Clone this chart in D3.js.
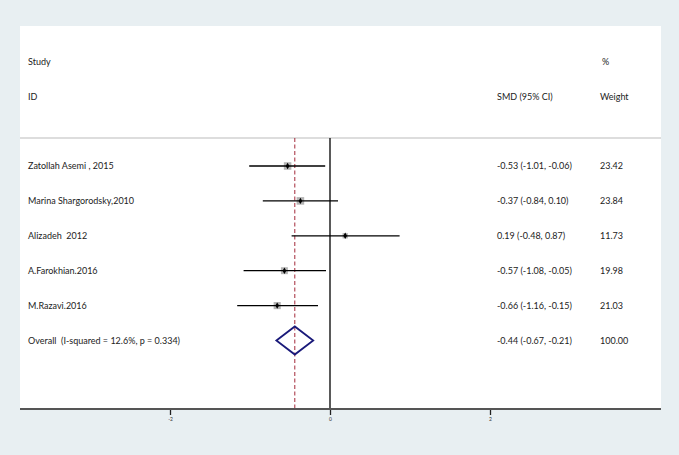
<!DOCTYPE html>
<html>
<head>
<meta charset="utf-8" />
<title>Forest plot</title>
<style>
  html, body { margin: 0; padding: 0; background: #e8eff2; }
  svg { display: block; }
  text { font-family: Lato, "Open Sans", sans-serif; font-size: 9px; fill: #222; white-space: pre; }
  .tick-lbl { font-size: 5px; fill: #333; }
</style>
</head>
<body>
<svg width="679" height="455"></svg>
<script src="https://cdn.jsdelivr.net/npm/d3@7"></script>
<script>
// data
var studies = ["Zatollah Asemi , 2015", "Marina Shargorodsky,2010", "Alizadeh  2012", "A.Farokhian.2016", "M.Razavi.2016"];
var smd = [-0.53, -0.37, 0.19, -0.57, -0.66];
var lower = [-1.01, -0.84, -0.48, -1.08, -1.16];
var upper = [-0.06, 0.10, 0.87, -0.05, -0.15];
var weights = [23.42, 23.84, 11.73, 19.98, 21.03];
var overallLabel = "Overall  (I-squared = 12.6%, p = 0.334)";
var overall = { est: -0.44, lo: -0.67, hi: -0.21, weight: 100.00 };
var xTicks = [-2, 0, 2];

var svg = d3.select("svg"),
    width = +svg.attr("width"),
    height = +svg.attr("height");

var panel = { left: 20, right: 661, top: 26, bottom: 409 };
var headerLine = 138;

// white panel
svg.append("rect")
  .attr("x", panel.left).attr("y", panel.top)
  .attr("width", panel.right - panel.left)
  .attr("height", panel.bottom - panel.top)
  .attr("fill", "#fff");

var x = d3.scaleLinear().domain([-2, 2]).range([170, 490]);

// rows: studies then overall
var rows = studies.concat(["__overall"]);
var y = d3.scalePoint().domain(rows).range([166, 340.5]);

var boxSize = d3.scaleSqrt().domain([0, 24]).range([0, 7.6]);

// plain hyphen for minus, like the original
var loc = d3.formatLocale({ decimal: ".", thousands: ",", grouping: [3], currency: ["", ""], minus: "-" });
var fmt = loc.format(".2f");

// header
svg.append("text").attr("x", 28).attr("y", 62).attr("dy", "0.35em").text("Study");
svg.append("text").attr("x", 28).attr("y", 97).attr("dy", "0.35em").text("ID");
svg.append("text").attr("x", 497).attr("y", 97).attr("dy", "0.35em").text("SMD (95% CI)");
svg.append("text").attr("x", 602).attr("y", 62).attr("dy", "0.35em").text("%");
svg.append("text").attr("x", 600).attr("y", 97).attr("dy", "0.35em").text("Weight");

svg.append("line")
  .attr("x1", panel.left).attr("x2", panel.right)
  .attr("y1", headerLine).attr("y2", headerLine)
  .attr("stroke", "#bbb").attr("stroke-width", 1.2);

// null line
svg.append("line")
  .attr("x1", x(0)).attr("x2", x(0))
  .attr("y1", headerLine).attr("y2", panel.bottom)
  .attr("stroke", "#000").attr("stroke-width", 1.3);

// overall dashed line
svg.append("line")
  .attr("x1", x(overall.est)).attr("x2", x(overall.est))
  .attr("y1", headerLine).attr("y2", panel.bottom)
  .attr("stroke", "#a3283a").attr("stroke-width", 1)
  .attr("stroke-dasharray", "4,2.5");

var g = svg.selectAll(".study")
  .data(studies.map(function(s, i) {
    return { name: s, est: smd[i], lo: lower[i], hi: upper[i], w: weights[i] };
  }))
  .enter().append("g")
  .attr("class", "study");

g.append("rect")
  .attr("x", function(d) { return x(d.est) - boxSize(d.w) / 2; })
  .attr("y", function(d) { return y(d.name) - boxSize(d.w) / 2; })
  .attr("width", function(d) { return boxSize(d.w); })
  .attr("height", function(d) { return boxSize(d.w); })
  .attr("fill", "#b4b4b4");

g.append("line")
  .attr("x1", function(d) { return x(d.lo); })
  .attr("x2", function(d) { return x(d.hi); })
  .attr("y1", function(d) { return y(d.name); })
  .attr("y2", function(d) { return y(d.name); })
  .attr("stroke", "#000").attr("stroke-width", 1.3);

g.append("path")
  .attr("d", d3.symbol().type(d3.symbolDiamond).size(12))
  .attr("transform", function(d) { return "translate(" + x(d.est) + "," + y(d.name) + ")"; })
  .attr("fill", "#000");

g.append("text")
  .attr("x", 28).attr("y", function(d) { return y(d.name); }).attr("dy", "0.35em")
  .text(function(d) { return d.name; });

g.append("text")
  .attr("x", 497)
  .attr("y", function(d) { return y(d.name); }).attr("dy", "0.35em")
  .text(function(d) { return fmt(d.est) + " (" + fmt(d.lo) + ", " + fmt(d.hi) + ")"; });

g.append("text")
  .attr("x", 600).attr("y", function(d) { return y(d.name); }).attr("dy", "0.35em")
  .text(function(d) { return fmt(d.w); });

// overall row
var oy = y("__overall");
svg.append("path")
  .attr("d", "M" + x(overall.lo) + "," + oy +
             "L" + x(overall.est) + "," + (oy - 14) +
             "L" + x(overall.hi) + "," + oy +
             "L" + x(overall.est) + "," + (oy + 14) + "Z")
  .attr("fill", "none").attr("stroke", "#1a1a7a").attr("stroke-width", 1.8);

svg.append("text").attr("x", 28).attr("y", oy).attr("dy", "0.35em").text(overallLabel);
svg.append("text").attr("x", 497).attr("y", oy).attr("dy", "0.35em")
  .text(fmt(overall.est) + " (" + fmt(overall.lo) + ", " + fmt(overall.hi) + ")");
svg.append("text").attr("x", 600).attr("y", oy).attr("dy", "0.35em").text(fmt(overall.weight));

// x axis
var axisG = svg.append("g")
  .attr("transform", "translate(0," + panel.bottom + ")")
  .call(d3.axisBottom(x).tickValues(xTicks).tickSize(6).tickFormat(loc.format("d")));
axisG.select(".domain").remove();
axisG.selectAll(".tick line").attr("stroke", "#222").attr("stroke-width", 1.3);
axisG.selectAll(".tick text").attr("class", "tick-lbl").attr("y", 10).attr("dy", "0.35em");

svg.append("line")
  .attr("x1", panel.left).attr("x2", panel.right)
  .attr("y1", panel.bottom).attr("y2", panel.bottom)
  .attr("stroke", "#555").attr("stroke-width", 2);
</script>
</body>
</html>
